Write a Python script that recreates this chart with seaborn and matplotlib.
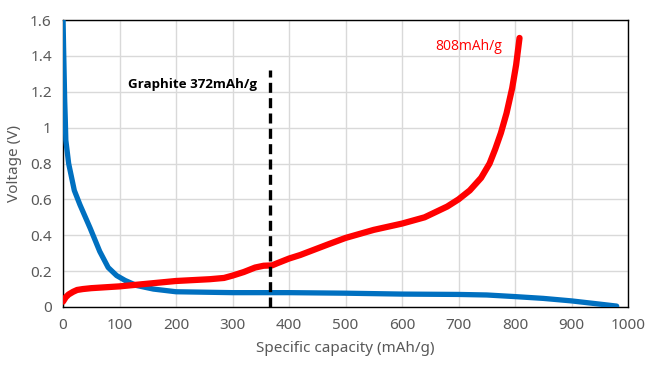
import matplotlib
matplotlib.use("Agg")
import matplotlib.pyplot as plt
import seaborn as sns
import pandas as pd
from matplotlib.ticker import FuncFormatter

# Discharge (blue)
blue_x = [0, 1, 2, 3, 4, 5, 10, 20, 30, 48, 65, 80, 95, 110, 130, 160, 200, 300, 400, 500, 600, 700, 750, 800, 850, 900, 950, 980]
blue_y = [1.62, 1.45, 1.3, 1.15, 1.05, 0.93, 0.8, 0.65, 0.57, 0.44, 0.31, 0.22, 0.175, 0.148, 0.12, 0.1, 0.085, 0.08, 0.08, 0.077, 0.072, 0.07, 0.067, 0.058, 0.048, 0.034, 0.016, 0.005]
# Charge (red)
red_x = [0, 5, 10, 18, 25, 35, 50, 100, 150, 200, 260, 285, 300, 320, 340, 355, 370, 380, 400, 420, 470, 500, 550, 600, 640, 680, 700, 720, 740, 755, 765, 775, 785, 795, 802, 808]
red_y = [0.03, 0.055, 0.07, 0.085, 0.095, 0.1, 0.105, 0.115, 0.13, 0.145, 0.155, 0.162, 0.175, 0.195, 0.22, 0.23, 0.232, 0.245, 0.27, 0.29, 0.35, 0.385, 0.43, 0.465, 0.5, 0.56, 0.6, 0.65, 0.72, 0.8, 0.88, 0.97, 1.08, 1.22, 1.35, 1.5]

graphite_x = 366
graphite_top = 1.32
x_ticks = list(range(0, 1001, 100))
y_ticks = [0, 0.2, 0.4, 0.6, 0.8, 1.0, 1.2, 1.4, 1.6]

sns.set_style("white")
plt.rcParams['font.family'] = ['Noto Sans', 'DejaVu Sans']

fig = plt.figure(figsize=(6.54, 3.81), dpi=100)
ax = fig.add_axes([63/654, 1-307/381, (628-63)/654, (307-20)/381])

blue_df = pd.DataFrame({"x": blue_x, "y": blue_y})
red_df = pd.DataFrame({"x": red_x, "y": red_y})

sns.lineplot(data=blue_df, x="x", y="y", sort=False, estimator=None, color="#0070C0",
             lw=3.8, ax=ax, solid_capstyle="round", solid_joinstyle="round", zorder=3)
sns.lineplot(data=red_df, x="x", y="y", sort=False, estimator=None, color="#FF0000",
             lw=4.5, ax=ax, solid_capstyle="round", solid_joinstyle="round", zorder=4)

ax.plot([graphite_x, graphite_x], [0, graphite_top], color="black", lw=2.4,
        linestyle=(0, (3, 1.6)), zorder=5)

ax.text(115, 1.24, "Graphite 372mAh/g", fontsize=9.6, fontweight="bold", color="black",
        va="center", ha="left", family=["Open Sans", "DejaVu Sans"])
ax.text(777, 1.455, "808mAh/g", fontsize=10, color="#FF0000",
        va="center", ha="right", family=["Open Sans", "DejaVu Sans"])

ax.set_xlim(0, 1000)
ax.set_ylim(0, 1.6)
ax.set_xticks(x_ticks)
ax.set_yticks(y_ticks)
ax.yaxis.set_major_formatter(FuncFormatter(lambda v, p: f"{v:g}"))
ax.grid(True, color="#D9D9D9", lw=1)
ax.set_axisbelow(True)
for s in ax.spines.values():
    s.set_color("black")
    s.set_linewidth(1)
ax.tick_params(axis="both", labelsize=11, labelcolor="#595959", length=0, pad=8)
ax.set_xlabel("Specific capacity (mAh/g)", fontsize=11, color="#595959", labelpad=6)
ax.set_ylabel("Voltage (V)", fontsize=11, color="#595959", labelpad=6)

fig.savefig("out.png", dpi=100)
